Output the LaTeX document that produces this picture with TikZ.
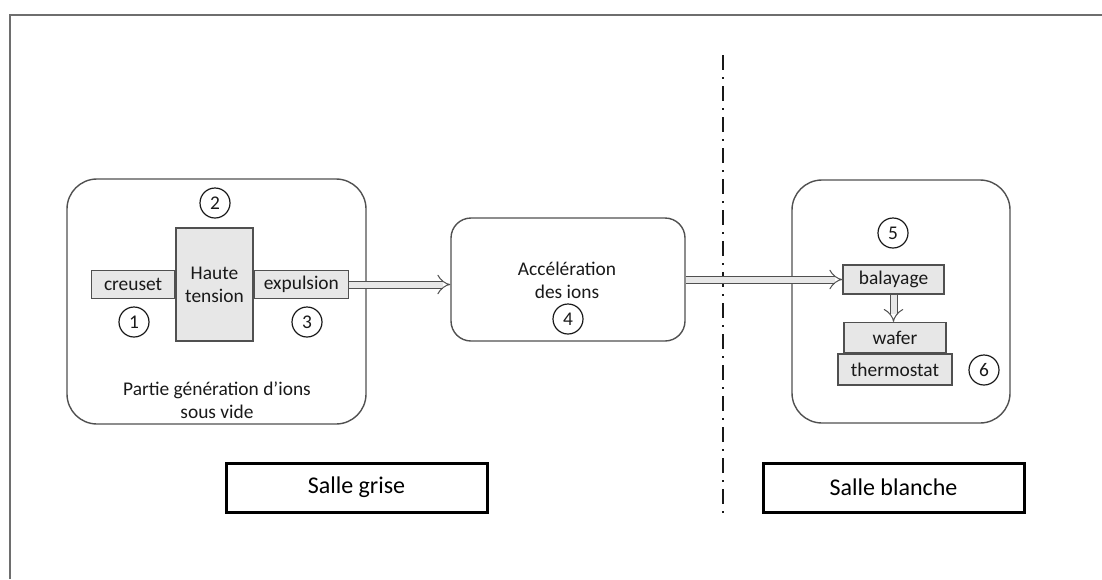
\documentclass[tikz,border=0pt]{standalone}
\usepackage{fontspec}
\setmainfont{Carlito}
\usepackage{tikz}
\usetikzlibrary{arrows.meta, positioning}
\definecolor{boxgray}{RGB}{231,231,231}
\definecolor{linegray}{RGB}{80,80,80}
\definecolor{txtgray}{RGB}{25,25,25}
\definecolor{framegray}{RGB}{110,110,110}
\tikzstyle{zone} = [rectangle, rounded corners=15pt, draw=linegray, line width=0.7pt]
\tikzstyle{part} = [rectangle, draw=linegray, fill=boxgray, line width=0.7pt, inner sep=0pt, text=txtgray, align=center]
\tikzstyle{num} = [circle, draw=txtgray, line width=0.6pt, minimum size=15pt, inner sep=0pt, text=txtgray]
\tikzstyle{room} = [rectangle, draw=black, line width=1.5pt, minimum width=130.5pt, minimum height=24.5pt, text=black, font=\fontsize{12}{14}\selectfont]
\tikzstyle{flow} = [draw=linegray, line width=0.5pt, double=boxgray, double distance=3pt, -{Implies}]
\tikzstyle{sep} = [line width=1pt, draw=txtgray, dash pattern=on 7.5pt off 3.5pt on 1pt off 3.5pt]

\begin{document}
\begin{tikzpicture}[x=0.5pt, y=-0.5pt, font=\fontsize{9.7}{11.6}\selectfont, text=txtgray]
    \useasboundingbox (0,0) rectangle (1102,579);
    % Outer frame (only top and left edges visible)
    \coordinate (frameBL) at (10,579);
    \coordinate (frameTL) at (10,15);
    \coordinate (frameTR) at (1102,15);
    \draw [framegray, line width=1pt] (frameBL) -- (frameTL) -- (frameTR);

    % Ion generation box
    \node (gen) [zone, minimum width=149.5pt, minimum height=122.5pt] at (216.5,301.5) {};
    \node (ht) [part, minimum width=38.5pt, minimum height=56.5pt] at (214.5,284.5) {Haute\\tension};
    \node (creuset) [part, minimum width=41.5pt, minimum height=14pt, left=0pt of ht] {creuset};
    \node (expulsion) [part, minimum width=47pt, minimum height=14pt, right=0pt of ht] {expulsion};
    \node (n1) [num] at (134,322) {1};
    \node (n2) [num] at (215,203) {2};
    \node (n3) [num] at (307,322) {3};
    \node (genlabel) [align=center] at (217,400) {Partie génération d’ions\\sous vide};

    % Acceleration box
    \node (acc) [zone, rounded corners=10pt, minimum width=117pt, minimum height=61.5pt] at (568,279.5) {};
    \node (acclabel) [align=center] at (567,280.5) {Accélération\\des ions};
    \node (n4) [num] at (568,319) {4};

    % Clean room box
    \node (clean) [zone, minimum width=109pt, minimum height=121.5pt] at (901,301.5) {};
    \node (balayage) [part, minimum width=50.5pt, minimum height=14.5pt] at (893.5,279.5) {balayage};
    \node (thermostat) [part, minimum width=57pt, minimum height=15.5pt] at (895,369.5) {thermostat};
    \node (wafer) [part, minimum width=51pt, minimum height=15pt, above=0pt of thermostat] {wafer};
    \node (n5) [num] at (893,233) {5};
    \node (n6) [num] at (984,370) {6};

    % Rooms
    \node (grise) [room] at (356.5,487.5) {Salle grise};
    \node (blanche) [room] at (893.5,487.5) {Salle blanche};

    % Separation line
    \coordinate (sepTop) at (723,55);
    \coordinate (sepBot) at (723,520);
    \draw [sep] (sepTop) -- (sepBot);

    % Arrows
    \draw [flow] (expulsion.east) -- (expulsion.east -| acc.west);
    \draw [flow] (acc.east) -- (balayage.west);
    \draw [flow] (balayage.south) -- (balayage.south |- wafer.north);
\end{tikzpicture}
\end{document}
